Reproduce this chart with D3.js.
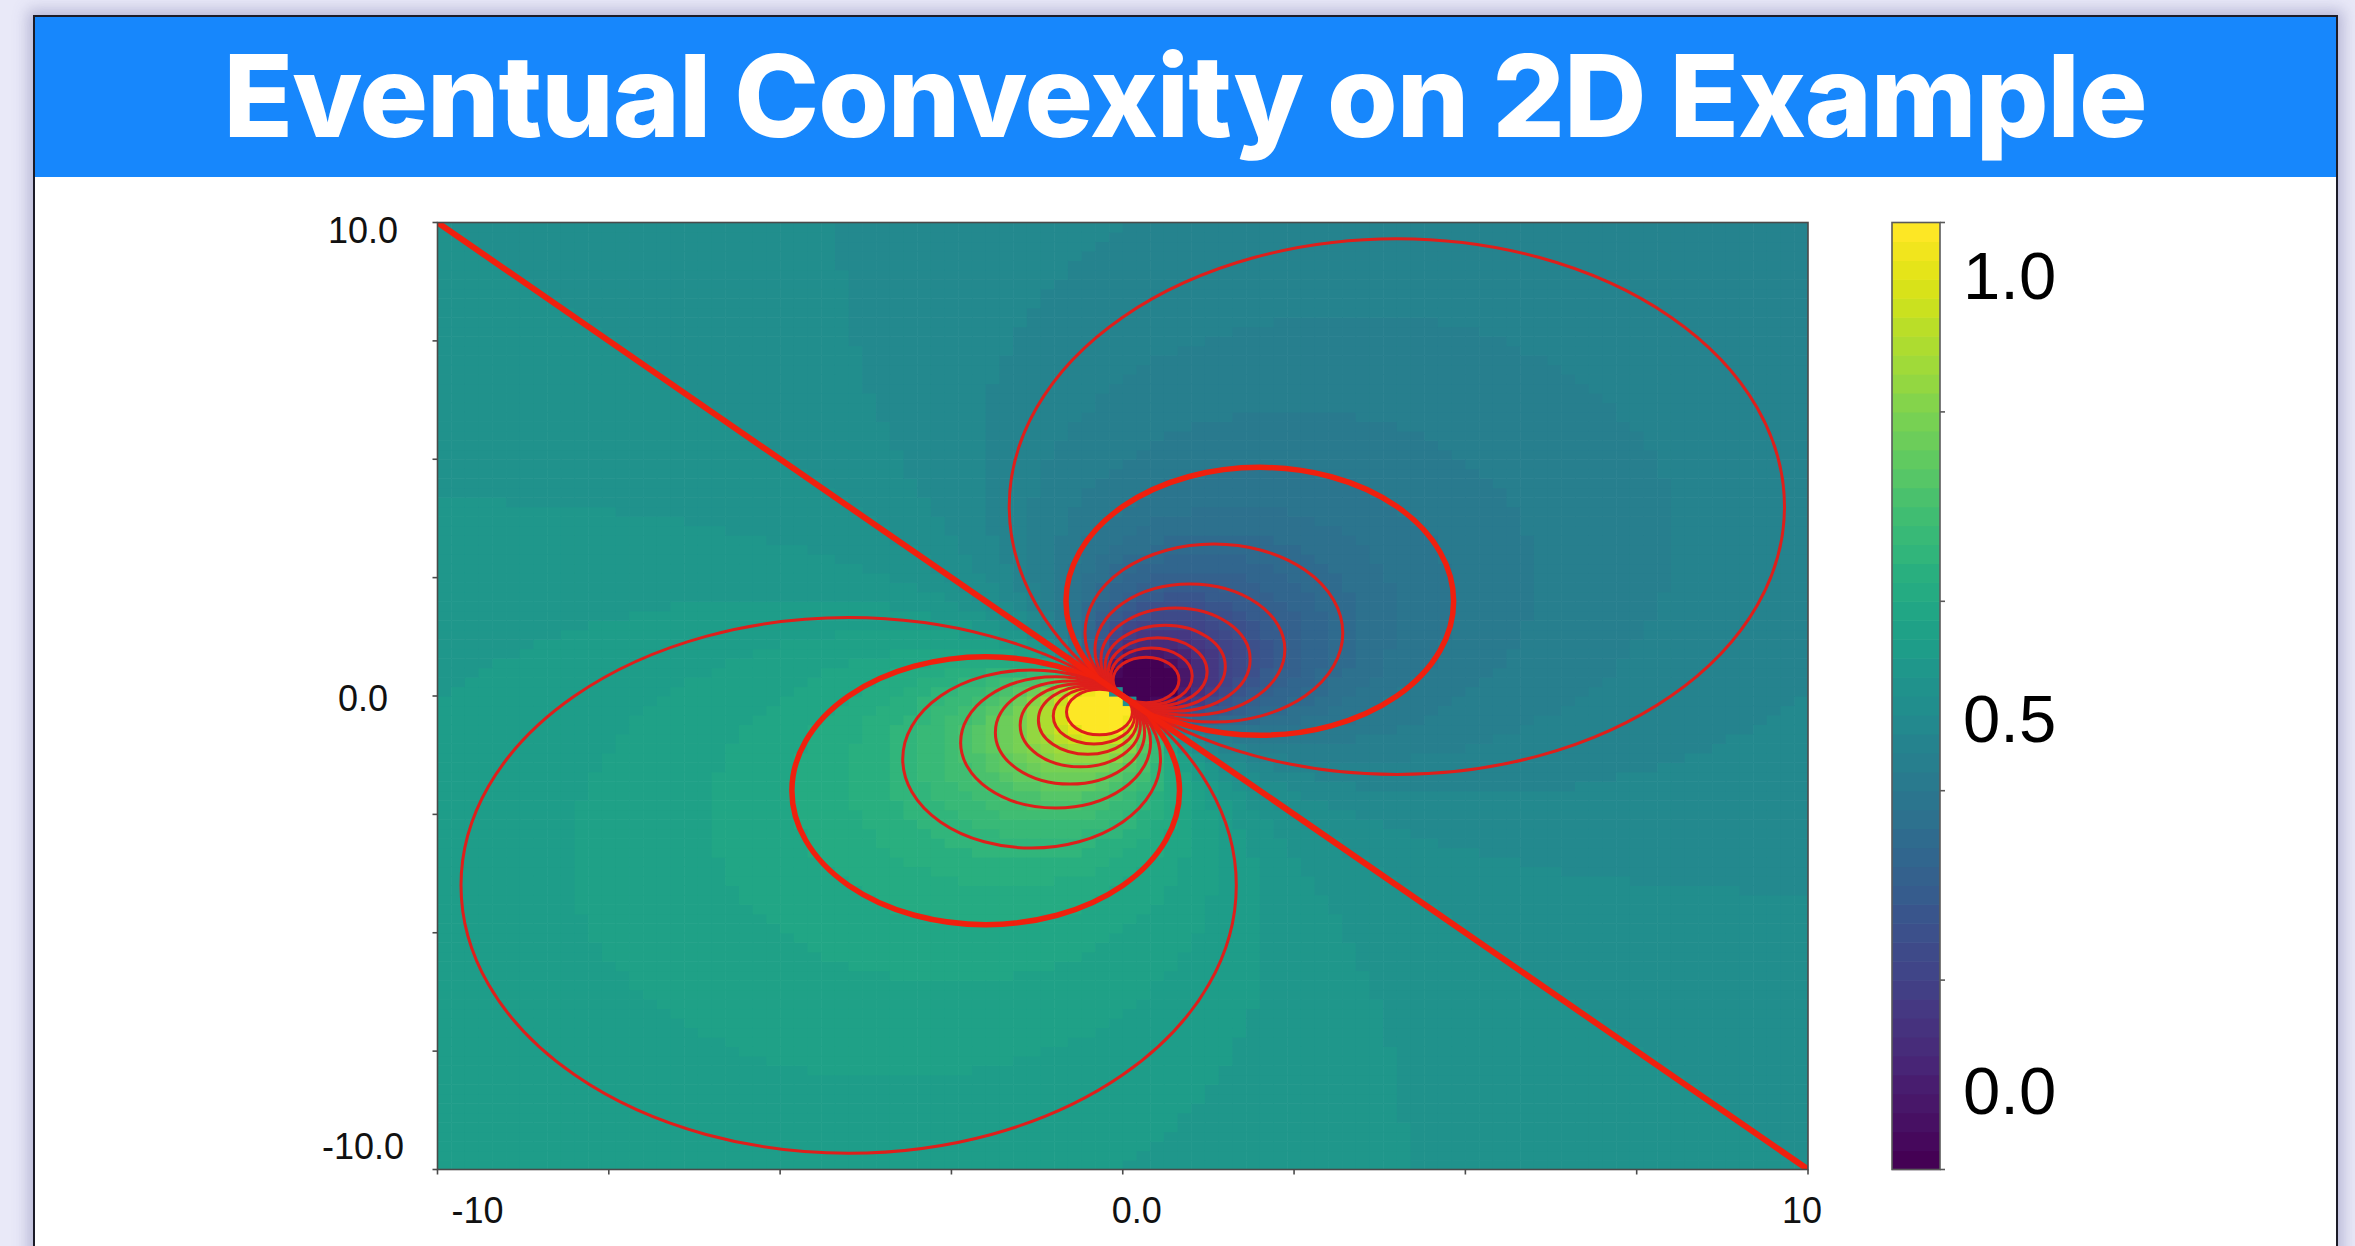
<!DOCTYPE html>
<html>
<head>
<meta charset="utf-8">
<script src="https://cdn.jsdelivr.net/npm/d3@7"></script>
<style>
  html, body { margin: 0; padding: 0; width: 2355px; height: 1246px; overflow: hidden; background: #e9e9f8; }
  #card { position: absolute; left: 33px; top: 15px; width: 2301px; height: 1300px; background: #fff;
          border: 2px solid #1c1c28; box-shadow: 0 0 14px 5px rgba(90, 90, 150, 0.35); }
  #chart { position: absolute; left: 0; top: 0; }
</style>
</head>
<body>
<div id="card"></div>
<div id="chart"></div>
<script>
// ---- values ----
var titleText = "Eventual Convexity on 2D Example";
var xDomain = [-10, 10];
var yDomain = [-10, 10];
var axisTicks = [-10, -7.5, -5, -2.5, 0, 2.5, 5, 7.5, 10];
var xTickLabels = [{ v: -10, t: "-10" }, { v: 0, t: "0.0" }, { v: 10, t: "10" }];
var yTickLabels = [{ v: 10, t: "10.0" }, { v: 0, t: "0.0" }, { v: -10, t: "-10.0" }];
var cbTicks = [0, 0.2, 0.4, 0.6, 0.8, 1.0];
var cbLabels = [{ v: 1.0, t: "1.0" }, { v: 0.5, t: "0.5" }, { v: 0.0, t: "0.0" }];
var gridCount = 100;          // heatmap cells per side
var colourSteps = 50;         // colour bands in the map

// contour levels: offset from 0.5 and the centre (c,c) of the circle through the pole
var levelOffset = [0.05, 0.10, 0.15, 0.20, 0.25, 0.30, 0.35, 0.40, 0.45];
var levelCentre = [4.0, 2.0, 1.33, 0.98, 0.77, 0.62, 0.51, 0.42, 0.34];
var clipCentre = 0.30;        // circle where the map saturates at 0 / 1
var thickOffsets = [0.10];    // drawn heavier, plus the 0.5 line

// ---- layout ----
var W = 2355, H = 1246;
var plot = { left: 437.5, right: 1808, top: 222.5, bottom: 1169.5 };
var cb = { left: 1892, right: 1940 };

var svg = d3.select("#chart").append("svg").attr("width", W).attr("height", H);

// title banner
svg.append("rect").attr("x", 35).attr("y", 17).attr("width", 2301).attr("height", 160).attr("fill", "#1787fc");
var title = svg.append("text")
    .attr("x", 1185).attr("y", 137)
    .attr("text-anchor", "middle")
    .style("font-family", "Inter, Lato, 'Open Sans', sans-serif")
    .style("font-weight", 800)
    .style("font-size", "110px")
    .style("letter-spacing", "-1px")
    .attr("fill", "#ffffff")
    .text(titleText);
var tw = title.node().getComputedTextLength();
title.style("font-size", (110 * 1922 / tw) + "px");

var x = d3.scaleLinear().domain(xDomain).range([plot.left, plot.right]);
var y = d3.scaleLinear().domain(yDomain).range([plot.bottom, plot.top]);

// value along the level circles -> offset from 0.5
var strength = d3.scaleLinear()
    .domain([0].concat(levelCentre.map(function (c) { return 1 / (2 * c); }), [1 / (2 * clipCentre)]))
    .range([0].concat(levelOffset, [0.5]))
    .clamp(true);

function field(px, py) {
    var r2 = px * px + py * py;
    if (r2 === 0) return 0.5;
    var s = (px + py) / r2;
    var g = strength(Math.abs(s));
    return s > 0 ? 0.5 - g : 0.5 + g;
}

var colour = d3.scaleQuantize().domain([0, 1]).range(d3.quantize(d3.interpolateViridis, colourSteps));

// heatmap cells
var step = (xDomain[1] - xDomain[0]) / gridCount;
var cells = [];
for (var i = 0; i < gridCount; i++) {
    for (var j = 0; j < gridCount; j++) {
        var x0 = xDomain[0] + i * step, y0 = yDomain[0] + j * step;
        cells.push({ x0: x0, y0: y0, v: field(x0 + step / 2, y0 + step / 2) });
    }
}

svg.append("clipPath").attr("id", "plotClip").append("rect")
    .attr("x", plot.left).attr("y", plot.top)
    .attr("width", plot.right - plot.left).attr("height", plot.bottom - plot.top);

var heat = svg.append("g").attr("clip-path", "url(#plotClip)");
heat.selectAll("rect").data(cells).enter().append("rect")
    .attr("x", function (d) { return x(d.x0); })
    .attr("y", function (d) { return y(d.y0 + step); })
    .attr("width", function (d) { return x(d.x0 + step) - x(d.x0) + 0.6; })
    .attr("height", function (d) { return y(d.y0) - y(d.y0 + step) + 0.6; })
    .attr("fill", function (d) { return colour(d.v); });

// contour circles (circles in data space -> ellipses on screen)
var circles = [];
levelOffset.forEach(function (o, k) {
    var c = levelCentre[k];
    var thick = thickOffsets.indexOf(o) >= 0;
    circles.push({ c: c, thick: thick });
    circles.push({ c: -c, thick: thick });
});

var cont = svg.append("g").attr("clip-path", "url(#plotClip)");
cont.selectAll("ellipse").data(circles).enter().append("ellipse")
    .attr("cx", function (d) { return x(d.c); })
    .attr("cy", function (d) { return y(d.c); })
    .attr("rx", function (d) { return x(Math.abs(d.c) * Math.SQRT2) - x(0); })
    .attr("ry", function (d) { return y(0) - y(Math.abs(d.c) * Math.SQRT2); })
    .attr("fill", "none")
    .attr("stroke", function (d) { return d.thick ? "#f0200e" : "#de1f1b"; })
    .attr("stroke-width", function (d) { return d.thick ? 5.5 : 3; });

// the 0.5 level: the line x + y = 0
cont.append("path")
    .datum([[xDomain[0], yDomain[1]], [xDomain[1], yDomain[0]]])
    .attr("d", d3.line().x(function (d) { return x(d[0]); }).y(function (d) { return y(d[1]); }))
    .attr("stroke", "#f0200e")
    .attr("stroke-width", 6)
    .attr("fill", "none");

// frame and ticks
var axisColour = "#4a4a4a";
svg.append("rect")
    .attr("x", plot.left).attr("y", plot.top)
    .attr("width", plot.right - plot.left).attr("height", plot.bottom - plot.top)
    .attr("fill", "none").attr("stroke", axisColour).attr("stroke-width", 1.6);

svg.append("g").selectAll("line").data(axisTicks).enter().append("line")
    .attr("x1", function (d) { return x(d); }).attr("x2", function (d) { return x(d); })
    .attr("y1", plot.bottom).attr("y2", plot.bottom + 5)
    .attr("stroke", axisColour).attr("stroke-width", 1.6);
svg.append("g").selectAll("line").data(axisTicks).enter().append("line")
    .attr("y1", function (d) { return y(d); }).attr("y2", function (d) { return y(d); })
    .attr("x1", plot.left - 5).attr("x2", plot.left)
    .attr("stroke", axisColour).attr("stroke-width", 1.6);

var tickFont = "'Liberation Sans', Arial, Helvetica, sans-serif";
var nx = xTickLabels.length;
svg.append("g").selectAll("text").data(xTickLabels).enter().append("text")
    .attr("x", function (d) { return x(d.v) + 14; })
    .attr("y", 1223)
    .attr("text-anchor", function (d, i) { return i === 0 ? "start" : (i === nx - 1 ? "end" : "middle"); })
    .style("font-family", tickFont).style("font-size", "36px").attr("fill", "#111")
    .text(function (d) { return d.t; });

var ny = yTickLabels.length;
svg.append("g").selectAll("text").data(yTickLabels).enter().append("text")
    .attr("x", 363)
    .attr("y", function (d, i) { return y(d.v) + (i === 0 ? 8 : (i === ny - 1 ? -23 : 2)); })
    .attr("dy", "0.36em")
    .attr("text-anchor", "middle")
    .style("font-family", tickFont).style("font-size", "36px").attr("fill", "#111")
    .text(function (d) { return d.t; });

// colour bar
var cbY = d3.scaleLinear().domain([0, 1]).range([plot.bottom, plot.top]);
var bands = colour.range().map(function (c, i) { return { lo: i / colourSteps, hi: (i + 1) / colourSteps, c: c }; });
svg.append("g").selectAll("rect").data(bands).enter().append("rect")
    .attr("x", cb.left).attr("width", cb.right - cb.left)
    .attr("y", function (d) { return cbY(d.hi); })
    .attr("height", function (d) { return cbY(d.lo) - cbY(d.hi) + 0.6; })
    .attr("fill", function (d) { return d.c; });
svg.append("rect")
    .attr("x", cb.left).attr("y", plot.top)
    .attr("width", cb.right - cb.left).attr("height", plot.bottom - plot.top)
    .attr("fill", "none").attr("stroke", "#5a5a5a").attr("stroke-width", 1.6);
svg.append("g").selectAll("line").data(cbTicks).enter().append("line")
    .attr("x1", cb.right).attr("x2", cb.right + 5)
    .attr("y1", function (d) { return cbY(d); }).attr("y2", function (d) { return cbY(d); })
    .attr("stroke", "#5a5a5a").attr("stroke-width", 1.6);

var cbLabelY = d3.scaleLinear().domain([0, 0.5, 1])
    .range([cbY(0) - 80, cbY(0.5) + 22, cbY(1) + 52]);
svg.append("g").selectAll("text").data(cbLabels).enter().append("text")
    .attr("x", 1963)
    .attr("y", function (d) { return cbLabelY(d.v); })
    .attr("dy", "0.36em")
    .style("font-family", tickFont).style("font-size", "67px").attr("fill", "#000")
    .text(function (d) { return d.t; });
</script>
</body>
</html>
